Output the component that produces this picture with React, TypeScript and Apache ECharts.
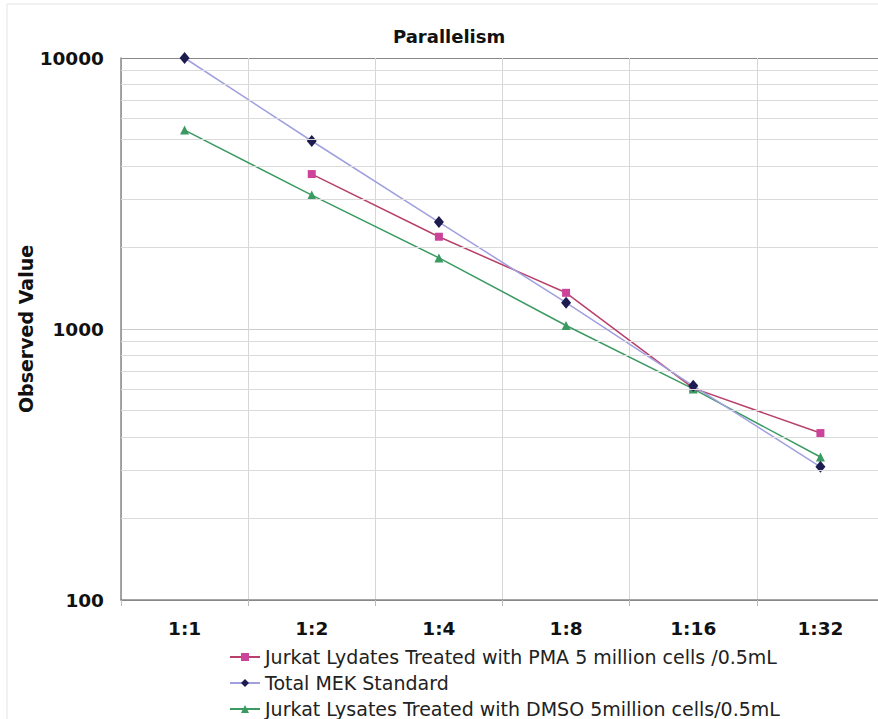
import React, { useEffect, useRef } from 'react';
import * as echarts from 'echarts';

const categories = ['1:1', '1:2', '1:4', '1:8', '1:16', '1:32'];
const pmaValues = [null, 3730, 2190, 1360, 605, 413];
const mekValues = [10000, 4940, 2480, 1250, 617, 310];
const dmsoValues = [5420, 3120, 1830, 1030, 601, 337];
const minorGridValues = [200, 300, 400, 500, 600, 700, 800, 900, 2000, 3000, 4000, 5000, 6000, 7000, 8000, 9000];

const seriesNames = [
  'Jurkat Lydates Treated with PMA 5 million cells /0.5mL',
  'Total MEK Standard',
  'Jurkat Lysates Treated with DMSO 5million cells/0.5mL',
];

const legendTops = [641, 667, 693];

export default function App() {
  const ref = useRef<HTMLDivElement>(null);
  useEffect(() => {
    document.body.style.margin = '0';
    const chart = echarts.init(ref.current!, null, { renderer: 'svg' });
    chart.setOption({
      animation: false,
      backgroundColor: '#ffffff',
      graphic: [
        {
          type: 'rect',
          shape: { x: 7, y: 4, width: 900, height: 740 },
          style: { fill: 'none', stroke: '#e4e4e4', lineWidth: 1 },
          silent: true,
          z: 0,
        },
      ],
      title: {
        text: 'Parallelism',
        left: 388,
        top: 22,
        textStyle: { fontFamily: 'DejaVu Sans', fontWeight: 'bold', fontSize: 18, color: '#111' },
      },
      legend: seriesNames.map((name, i) => ({
        data: [name],
        orient: 'horizontal',
        left: 224,
        top: legendTops[i],
        itemWidth: 30,
        itemHeight: 10,
        itemGap: 0,
        textStyle: { fontFamily: 'DejaVu Sans', fontSize: 19, color: '#222', lineHeight: 22 },
      })),
      grid: { left: 121, top: 58, width: 763, height: 542 },
      xAxis: {
        type: 'category',
        data: categories,
        boundaryGap: true,
        axisLine: { lineStyle: { color: '#888', width: 1.5 } },
        axisTick: { show: true, length: 6, lineStyle: { color: '#bbb' } },
        axisLabel: {
          fontFamily: 'DejaVu Sans',
          fontWeight: 'bold',
          fontSize: 18.5,
          color: '#111',
          margin: 19,
        },
        splitLine: { show: true, lineStyle: { color: '#d6d6d6', width: 1 } },
      },
      yAxis: {
        type: 'log',
        logBase: 10,
        min: 100,
        max: 10000,
        name: 'Observed Value',
        nameLocation: 'middle',
        nameGap: 86,
        nameMoveOverlap: false,
        nameTextStyle: { fontFamily: 'DejaVu Sans', fontWeight: 'bold', fontSize: 19, color: '#111' },
        axisLine: { show: true, lineStyle: { color: '#888', width: 1.5 } },
        axisTick: { show: false },
        axisLabel: {
          fontFamily: 'DejaVu Sans',
          fontWeight: 'bold',
          fontSize: 18.5,
          color: '#111',
          margin: 17,
          formatter: (v: number) => String(Math.round(v)),
        },
        splitLine: { show: true, lineStyle: { color: ['#888', '#cccccc', '#888'], width: 1.2 } },
      },
      series: [
        {
          name: 'minor-grid',
          type: 'line',
          data: categories.map(() => null),
          z: 1,
          silent: true,
          markLine: {
            silent: true,
            symbol: 'none',
            label: { show: false },
            lineStyle: { color: '#dadada', type: 'solid', width: 1 },
            data: minorGridValues.map((v) => ({ yAxis: v })),
          },
        },
        {
          name: seriesNames[0],
          type: 'line',
          data: pmaValues,
          z: 3,
          symbol: 'rect',
          symbolSize: 8,
          itemStyle: { color: '#cc4499' },
          lineStyle: { color: '#b8406a', width: 1.5 },
        },
        {
          name: seriesNames[1],
          type: 'line',
          data: mekValues,
          z: 4,
          symbol: 'diamond',
          symbolSize: [10, 12],
          itemStyle: { color: '#1c1c50' },
          lineStyle: { color: '#a0a0e0', width: 1.5 },
        },
        {
          name: seriesNames[2],
          type: 'line',
          data: dmsoValues,
          z: 3,
          symbol: 'triangle',
          symbolSize: 9,
          itemStyle: { color: '#3a9a62' },
          lineStyle: { color: '#3a9a62', width: 1.5 },
        },
      ],
    });
    return () => chart.dispose();
  }, []);
  return (
    <div style={{ width: 878, height: 719, overflow: 'hidden', position: 'relative' }}>
      <div ref={ref} style={{ width: 890, height: 719 }} />
    </div>
  );
}
